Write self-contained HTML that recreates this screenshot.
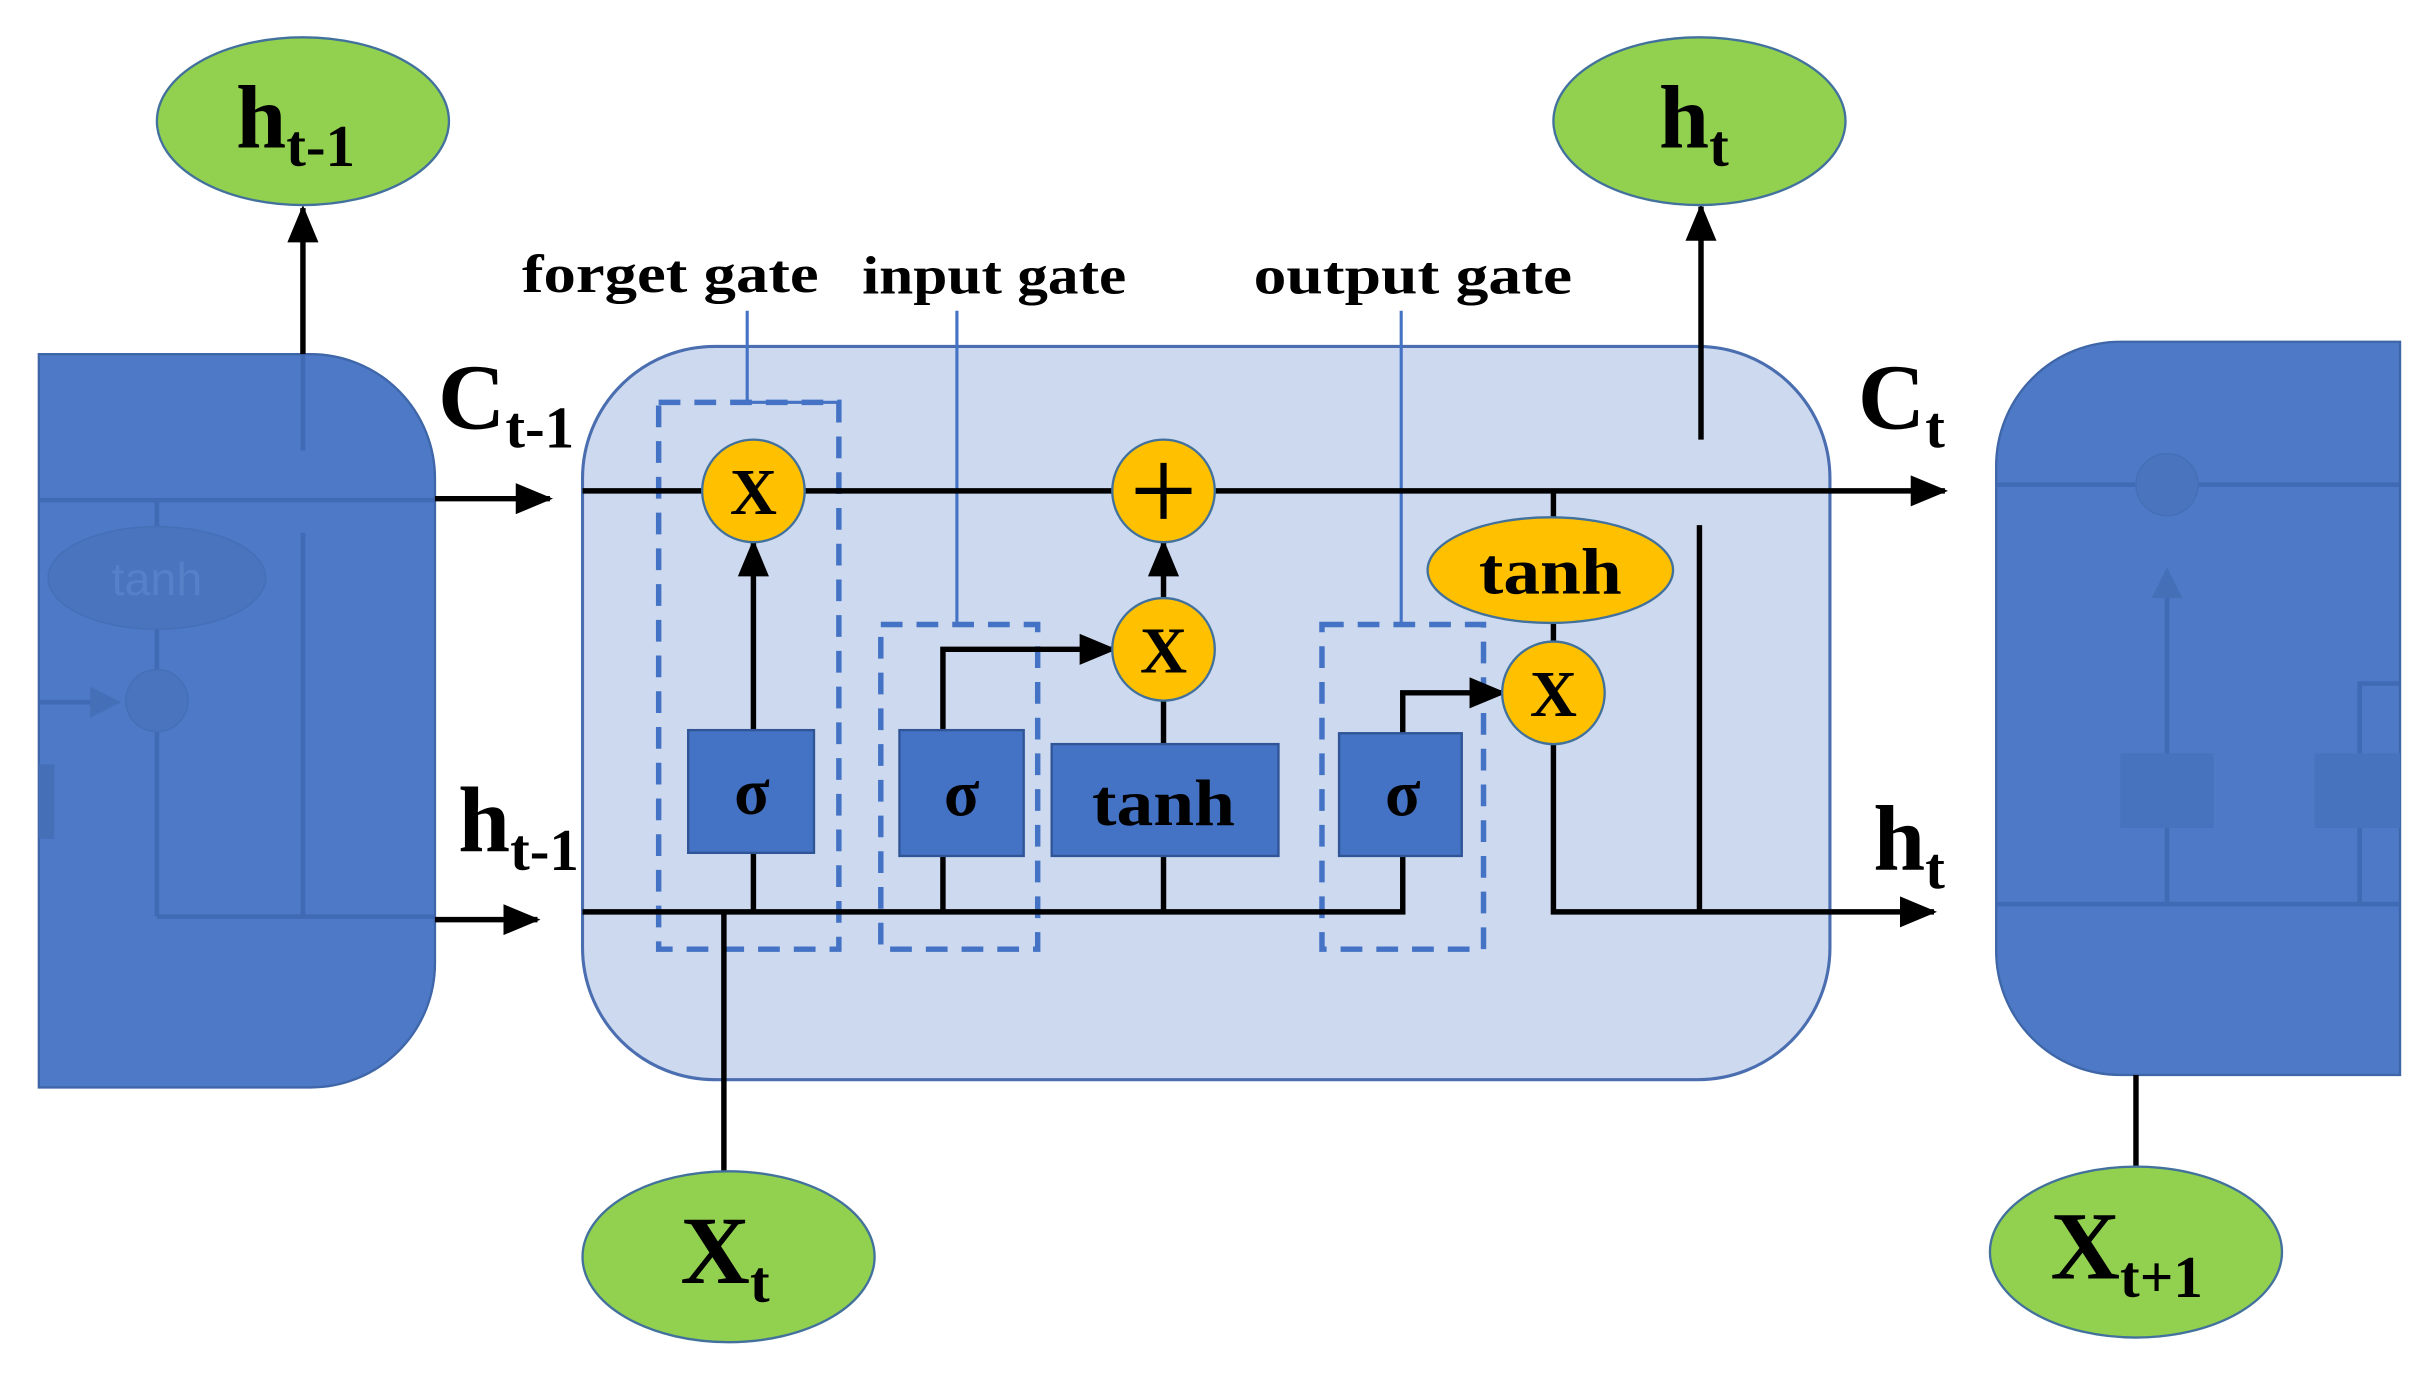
<!DOCTYPE html>
<html><head><meta charset="utf-8"><style>
html,body{margin:0;padding:0;background:#fff;}
svg{display:block;}
text{font-family:"Liberation Serif",serif;font-weight:bold;fill:#000;}
</style></head><body>
<svg width="2435" height="1379" viewBox="0 0 1567.5 887.7" preserveAspectRatio="none" xmlns="http://www.w3.org/2000/svg">
<defs>
<marker id="ar" viewBox="0 0 12 10" refX="11" refY="5" markerWidth="24" markerHeight="20" markerUnits="userSpaceOnUse" orient="auto">
<path d="M0,0 L12,5 L0,10 z" fill="#000"/></marker>
</defs>
<!-- left block -->
<path d="M25,228 H200 A80,80 0 0 1 280,308 V620 A80,80 0 0 1 200,700 H25 Z" fill="#4d79c6" stroke="#3f66a8" stroke-width="1.5"/>
<g stroke="#3f67b0" stroke-width="3" fill="none" opacity="0.8">
<line x1="25" y1="322" x2="280" y2="322"/>
<line x1="101" y1="322" x2="101" y2="590"/>
<line x1="101" y1="590" x2="280" y2="590"/>
<line x1="195" y1="228" x2="195" y2="290"/>
<line x1="195" y1="343" x2="195" y2="590"/>
<line x1="25" y1="452" x2="70" y2="452"/>
</g>
<path d="M58,442 L78,452 L58,462 z" fill="#4570b8"/>
<ellipse cx="101" cy="372" rx="70" ry="33" fill="#4a74bd" stroke="#4570b8"/>
<text x="101" y="383" font-size="30" text-anchor="middle" style="font-weight:normal;fill:#5681c8;font-family:'Liberation Sans',sans-serif">tanh</text>
<circle cx="101" cy="451" r="20" fill="#4a74bd" stroke="#4570b8"/>
<rect x="25" y="492" width="10" height="48" fill="#4570b8"/>
<!-- right block -->
<path d="M1545,220 H1365 A80,80 0 0 0 1285,300 V612 A80,80 0 0 0 1365,692 H1545 Z" fill="#4d79c6" stroke="#3f66a8" stroke-width="1.5"/>
<g stroke="#3f67b0" stroke-width="3" fill="none" opacity="0.8">
<line x1="1285" y1="312" x2="1545" y2="312"/>
<line x1="1285" y1="582" x2="1545" y2="582"/>
<line x1="1395" y1="385" x2="1395" y2="582"/>
<polyline points="1519,582 1519,440 1545,440"/>
</g>
<path d="M1385,385 L1395,365 L1405,385 z" fill="#4570b8"/>
<circle cx="1395" cy="312" r="20" fill="#4a74bd" stroke="#4570b8"/>
<rect x="1365" y="485" width="60" height="48" fill="#4772bd"/>
<rect x="1490" y="485" width="55" height="48" fill="#4772bd"/>
<!-- main cell -->
<rect x="375" y="223" width="803" height="472" rx="85" ry="85" fill="#cdd9ef" stroke="#4a6eb0" stroke-width="2"/>
<!-- dashed boxes -->
<g stroke="#4472c4" stroke-width="3.5" fill="none" stroke-dasharray="14,9">
<rect x="424" y="259" width="116" height="352"/>
<rect x="567" y="402" width="101" height="209"/>
<rect x="851" y="402" width="104" height="209"/>
</g>
<g stroke="#4472c4" stroke-width="2" fill="none">
<polyline points="481,200 481,259 540,259"/>
<line x1="616" y1="200" x2="616" y2="402"/>
<line x1="902" y1="200" x2="902" y2="402"/>
</g>
<!-- black lines -->
<g stroke="#000" stroke-width="3.5" fill="none">
<line x1="195" y1="228" x2="195" y2="134" marker-end="url(#ar)"/>
<line x1="280" y1="321" x2="354" y2="321" marker-end="url(#ar)"/>
<line x1="280" y1="592" x2="346" y2="592" marker-end="url(#ar)"/>
<line x1="375" y1="316" x2="1252" y2="316" marker-end="url(#ar)"/>
<polyline points="375,587 903,587 903,446 968,446" marker-end="url(#ar)"/>
<line x1="485" y1="470" x2="485" y2="349" marker-end="url(#ar)"/>
<line x1="485" y1="549" x2="485" y2="587"/>
<polyline points="607,587 607,418 717,418" marker-end="url(#ar)"/>
<line x1="749" y1="587" x2="749" y2="451"/>
<line x1="749" y1="385" x2="749" y2="349" marker-end="url(#ar)"/>
<line x1="466" y1="587" x2="466" y2="755"/>
<line x1="1000" y1="316" x2="1000" y2="413"/>
<polyline points="1000,479 1000,587 1245,587" marker-end="url(#ar)"/>
<line x1="1094" y1="338" x2="1094" y2="587"/>
<line x1="1095" y1="283" x2="1095" y2="133" marker-end="url(#ar)"/>
<line x1="1375" y1="692" x2="1375" y2="752"/>
</g>
<!-- sigma / tanh boxes -->
<g fill="#4472c4" stroke="#2f5597" stroke-width="1.5">
<rect x="443" y="470" width="81" height="79"/>
<rect x="579" y="470" width="80" height="81"/>
<rect x="677" y="479" width="146" height="72"/>
<rect x="862" y="472" width="79" height="79"/>
</g>
<g font-size="42" text-anchor="middle">
<text x="484" y="524">σ</text>
<text x="619" y="525">σ</text>
<text x="903" y="525">σ</text>
<text x="749" y="531" font-size="42" textLength="92" lengthAdjust="spacingAndGlyphs">tanh</text>
</g>
<!-- yellow ops -->
<g fill="#ffc000" stroke="#41719c" stroke-width="1.5">
<circle cx="485" cy="316" r="33"/>
<circle cx="749" cy="316" r="33"/>
<circle cx="749" cy="418" r="33"/>
<circle cx="1000" cy="446" r="33"/>
<ellipse cx="998" cy="367" rx="79" ry="34"/>
</g>
<g font-size="42" text-anchor="middle">
<text x="485" y="331">X</text>
<text x="749" y="433">X</text>
<text x="1000" y="461">X</text>
<text x="998" y="382" textLength="92" lengthAdjust="spacingAndGlyphs">tanh</text>
</g>
<g stroke="#000" stroke-width="4"><line x1="731" y1="316" x2="767" y2="316"/><line x1="749" y1="298" x2="749" y2="334"/></g>
<!-- green ellipses -->
<g fill="#92d050" stroke="#41719c" stroke-width="1.5">
<ellipse cx="195" cy="78" rx="94" ry="54"/>
<ellipse cx="1094" cy="78" rx="94" ry="54"/>
<ellipse cx="469" cy="809" rx="94" ry="55"/>
<ellipse cx="1375" cy="806" rx="94" ry="55"/>
</g>
<text x="152" y="95" font-size="58">h<tspan font-size="38" dy="12">t-1</tspan></text>
<text x="1068" y="95" font-size="58">h<tspan font-size="38" dy="12">t</tspan></text>
<text x="438" y="826" font-size="62">X<tspan font-size="38" dy="12">t</tspan></text>
<text x="1320" y="823" font-size="62">X<tspan font-size="38" dy="12">t+1</tspan></text>
<!-- line labels -->
<text x="282" y="276" font-size="60">C<tspan font-size="38" dy="12">t-1</tspan></text>
<text x="295" y="548" font-size="60">h<tspan font-size="38" dy="12">t-1</tspan></text>
<text x="1196" y="276" font-size="60">C<tspan font-size="38" dy="12">t</tspan></text>
<text x="1206" y="560" font-size="60">h<tspan font-size="38" dy="12">t</tspan></text>
<!-- gate labels -->
<g font-size="35">
<text x="336" y="188" textLength="191" lengthAdjust="spacingAndGlyphs">forget gate</text>
<text x="555" y="189" textLength="170" lengthAdjust="spacingAndGlyphs">input gate</text>
<text x="807" y="189" textLength="205" lengthAdjust="spacingAndGlyphs">output gate</text>
</g>
</svg>
</body></html>
